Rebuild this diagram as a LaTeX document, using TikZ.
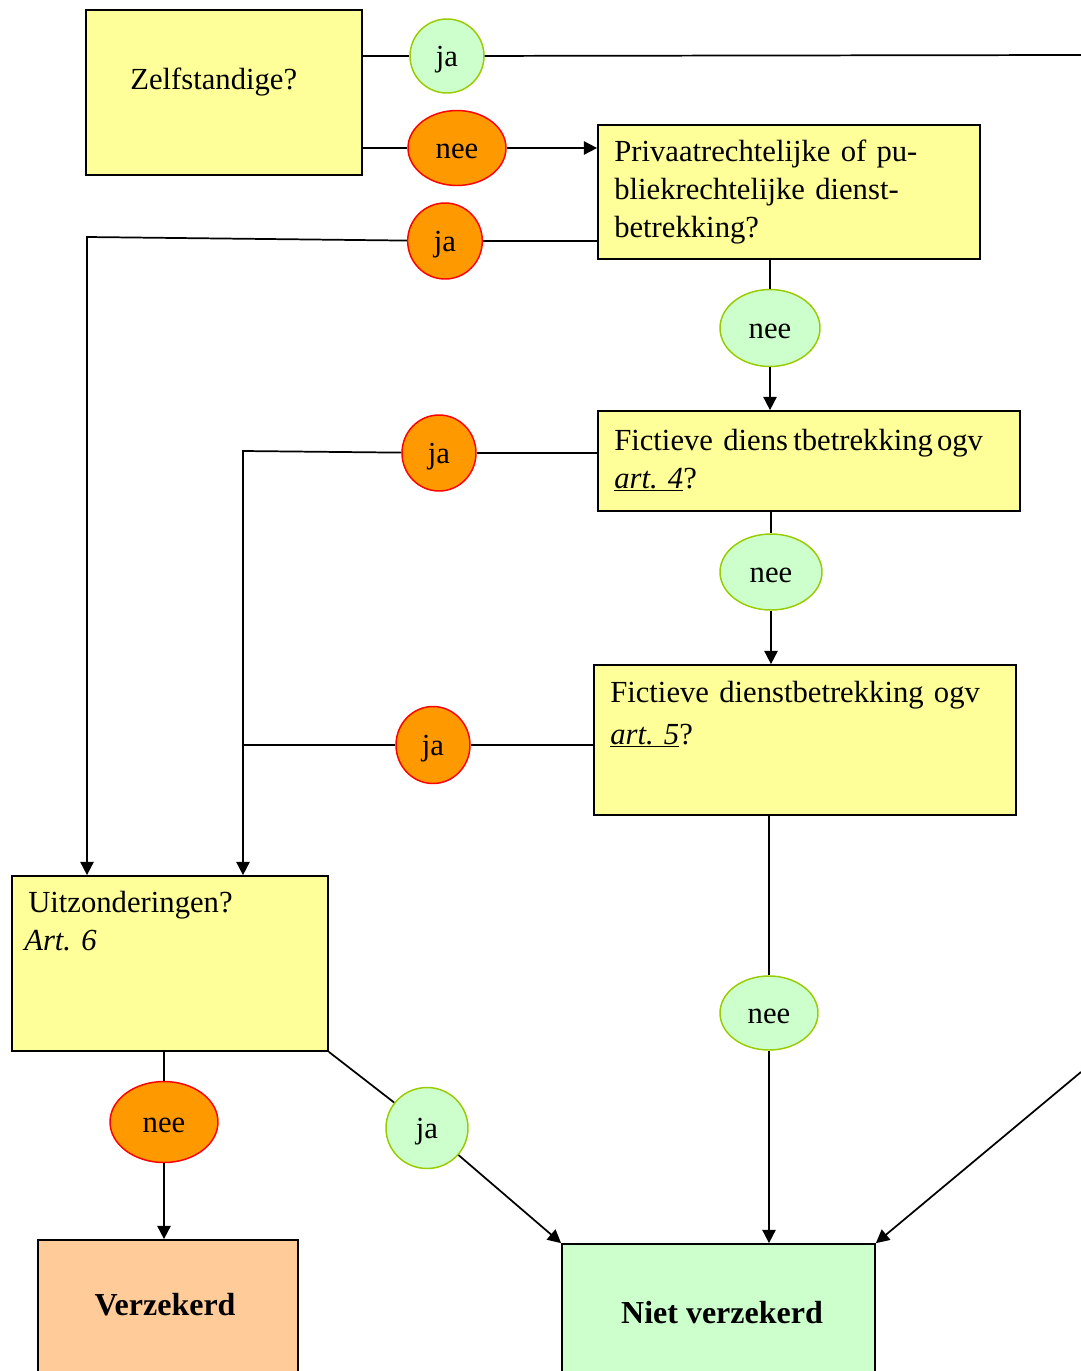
\documentclass[tikz,border=0pt]{standalone}
\usepackage{fontspec}
\setmainfont{Liberation Serif}
\usetikzlibrary{arrows.meta,shapes.geometric}
\definecolor{boxyellow}{RGB}{255,255,153}
\definecolor{jagreen}{RGB}{204,255,204}
\definecolor{greenedge}{RGB}{153,204,0}
\definecolor{neeorange}{RGB}{255,153,0}
\definecolor{verzpeach}{RGB}{255,204,153}

\begin{document}
\frenchspacing
\begin{tikzpicture}[x=0.75pt, y=-0.75pt,
    every node/.style={font=\fontsize{23}{28.5}\selectfont},
    qbox/.style={draw, line width=1.3pt, fill=boxyellow, inner sep=0pt},
    endbox/.style={draw, line width=1.3pt, inner sep=0pt},
    qtext/.style={anchor=base west, inner sep=0pt, text width=310pt, align=left},
    jacirc/.style={ellipse, draw=greenedge, line width=1.1pt, fill=jagreen, inner sep=0pt, text height=16pt, text depth=1pt},
    neecirc/.style={ellipse, draw=red, line width=1.1pt, fill=neeorange, inner sep=0pt, text height=16pt, text depth=1pt},
    link/.style={line width=1.3pt},
    arrow/.style={link, -{Triangle[length=10pt,width=10pt]}}]
  \useasboundingbox (0,0) rectangle (1081,1371);
  \clip (0,0) rectangle (1081,1371);

  % question boxes
  \node[qbox, minimum width=207pt, minimum height=123.75pt] (zelf) at (224,92.5) {};
  \node[qbox, minimum width=286.5pt, minimum height=100.5pt] (priv) at (789,192) {};
  \node[qbox, minimum width=316.5pt, minimum height=75pt] (fict4) at (809,461) {};
  \node[qbox, minimum width=316.5pt, minimum height=112.5pt] (fict5) at (805,740) {};
  \node[qbox, minimum width=237pt, minimum height=131.25pt] (uitz) at (170,963.5) {};

  % outcome boxes (run off the page)
  \node[endbox, fill=verzpeach, minimum width=195pt, minimum height=135pt] (verz) at (168,1330) {};
  \node[endbox, fill=jagreen, minimum width=234.75pt, minimum height=132pt] (niet) at (718.5,1332) {};

  % box texts
  \node[anchor=base west, inner sep=0pt] (zelftxt) at (130,89) {Zelfstandige?};
  \node[qtext] (privtxt) at (614,161) {Privaatrechtelijke of pu-\\bliekrechtelijke dienst-\\betrekking?};
  \node[qtext] (fict4txt) at (614,450) {Fictieve diens\hspace{4pt}tbetrekking\hspace{3pt}ogv\\\underline{\textit{art.~4}}?};
  \node[qtext] (fict5txt) at (610,702) {Fictieve dienstbetrekking ogv\\[3pt]\underline{\textit{art.~5}}?};
  \node[qtext] (uitztxt) at (28,912) {Uitzonderingen?\\\hspace*{-3pt}\textit{Art. 6}};
  \node[font=\fontsize{24}{28}\selectfont\bfseries] (verztxt) at (165,1305) {Verzekerd};
  \node[font=\fontsize{24}{28}\selectfont\bfseries] (niettxt) at (722,1313) {Niet verzekerd};

  % answers
  \node[jacirc, minimum width=55.5pt, minimum height=55.5pt] (jaA) at (447,56) {ja};
  \node[neecirc, minimum width=73.5pt, minimum height=56.25pt] (neeA) at (457,148) {nee};
  \node[neecirc, minimum width=56pt, minimum height=57pt] (jaB) at (445,241) {ja};
  \node[jacirc, minimum width=75pt, minimum height=57.75pt] (neeB) at (770,328) {nee};
  \node[neecirc, minimum width=55.5pt, minimum height=57pt] (jaC) at (439,453) {ja};
  \node[jacirc, minimum width=76.5pt, minimum height=57pt] (neeC) at (771,572) {nee};
  \node[neecirc, minimum width=55.5pt, minimum height=57.75pt] (jaD) at (433,745) {ja};
  \node[jacirc, minimum width=73.5pt, minimum height=55.5pt] (neeD) at (769,1013) {nee};
  \node[neecirc, minimum width=81pt, minimum height=60.75pt] (neeE) at (164,1122) {nee};
  \node[jacirc, minimum width=61.5pt, minimum height=60.75pt] (jaE) at (427,1128) {ja};

  % free ends and rails
  \coordinate (outR) at (1081,55);
  \coordinate (inR) at (1081,1072);
  \coordinate (leftrail) at (87,237);
  \coordinate (midrail) at (243,451);

  % connectors
  \draw[link] (zelf.east |- jaA) -- (jaA);
  \draw[link] (jaA) -- (outR);
  \draw[link] (zelf.east |- neeA) -- (neeA);
  \draw[arrow] (neeA) -- (neeA -| priv.west);
  \draw[link] (priv.west |- jaB) -- (jaB);
  \draw[arrow] (jaB) -- (leftrail) -- (leftrail |- uitz.north);
  \draw[link] (neeB |- priv.south) -- (neeB);
  \draw[arrow] (neeB) -- (neeB |- fict4.north);
  \draw[link] (fict4.west |- jaC) -- (jaC);
  \draw[arrow] (jaC) -- (midrail) -- (midrail |- uitz.north);
  \draw[link] (neeC |- fict4.south) -- (neeC);
  \draw[arrow] (neeC) -- (neeC |- fict5.north);
  \draw[link] (fict5.west |- jaD) -- (jaD) -- (jaD -| midrail);
  \draw[link] (neeD |- fict5.south) -- (neeD);
  \draw[arrow] (neeD) -- (neeD |- niet.north);
  \draw[link] (neeE |- uitz.south) -- (neeE);
  \draw[arrow] (neeE) -- (neeE |- verz.north);
  \draw[link] (uitz.south east) -- (jaE);
  \draw[arrow] (jaE) -- (niet.north west);
  \draw[arrow] (inR) -- (niet.north east);
\end{tikzpicture}
\end{document}
